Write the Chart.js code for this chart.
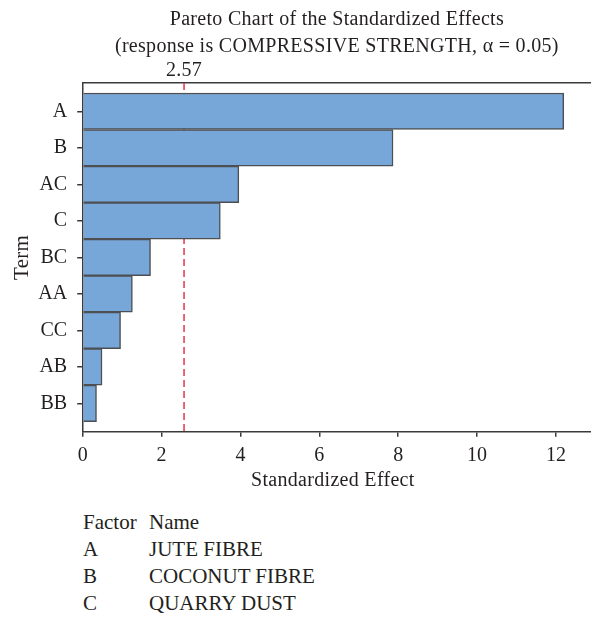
<!DOCTYPE html>
<html>
<head>
<meta charset="utf-8">
<script src="https://cdn.jsdelivr.net/npm/chart.js@4/dist/chart.umd.min.js"></script>
<style>
  html, body { margin: 0; padding: 0; background: #fff; }
  #wrap { position: relative; width: 591px; height: 618px; overflow: hidden; }
  #chart-box { position: absolute; left: 0; top: 0; width: 591px; height: 500px; }
  .factor-table { position: absolute; left: 83px; top: 510px; font-family: "Liberation Serif", "DejaVu Serif", serif; font-size: 21px; line-height: 24px; color: #231f20; }
  .factor-table div { position: absolute; white-space: nowrap; }
</style>
</head>
<body>
<div id="wrap">
  <div id="chart-box"><canvas id="c" width="591" height="500"></canvas></div>
  <div class="factor-table" id="factors"></div>
</div>
<script>
// Model terms and their standardized effects (sorted largest first)
const terms = ['A', 'B', 'AC', 'C', 'BC', 'AA', 'CC', 'AB', 'BB'];
const effects = [12.20, 7.87, 3.96, 3.49, 1.72, 1.26, 0.96, 0.49, 0.35];
// Reference line: critical t value at alpha = 0.05
const critical = 2.57;
const xTicks = [0, 2, 4, 6, 8, 10, 12];
// Factor key
const factorCodes = ['A', 'B', 'C'];
const factorNames = ['JUTE FIBRE', 'COCONUT FIBRE', 'QUARRY DUST'];

const titleLines = ['Pareto Chart of the Standardized Effects', '(response is COMPRESSIVE STRENGTH, \u03B1 = 0.05)'];
const FONT = '"Liberation Serif", "DejaVu Serif", serif';
const TEXT = '#231f20';
const AXIS = '#3a3a3a';

// Factor table below the chart
const tbl = document.getElementById('factors');
function addCell(txt, x, y) {
  const d = document.createElement('div');
  d.textContent = txt; d.style.left = x + 'px'; d.style.top = y + 'px';
  tbl.appendChild(d);
}
addCell('Factor', 0, 0); addCell('Name', 66, 0);
factorCodes.forEach((f, i) => { addCell(f, 0, 27 * (i + 1)); addCell(factorNames[i], 66, 27 * (i + 1)); });

const overlay = {
  id: 'overlay',
  beforeDatasetsDraw(chart) {
    const { ctx, chartArea } = chart;
    const x = chart.scales.x.getPixelForValue(critical);
    ctx.save();
    ctx.strokeStyle = '#e3354c';
    ctx.lineWidth = 1.5;
    ctx.setLineDash([7, 4]);
    ctx.beginPath();
    ctx.moveTo(x, chartArea.top);
    ctx.lineTo(x, chartArea.bottom);
    ctx.stroke();
    ctx.restore();
  },
  afterDraw(chart) {
    const { ctx, chartArea } = chart;
    const cx = (chartArea.left + chartArea.right) / 2;
    ctx.save();
    ctx.fillStyle = TEXT;
    ctx.textAlign = 'center';
    ctx.textBaseline = 'middle';
    ctx.font = '20px ' + FONT;
    ctx.letterSpacing = '0.3px';
    ctx.fillText(titleLines[0], cx, 20);
    ctx.fillText(titleLines[1], cx, 47);
    ctx.fillText(critical.toFixed(2), chart.scales.x.getPixelForValue(critical), 71);
    ctx.fillText('Standardized Effect', cx - 4, 481);
    ctx.translate(22, (chartArea.top + chartArea.bottom) / 2);
    ctx.rotate(-Math.PI / 2);
    ctx.font = '21px ' + FONT;
    ctx.fillText('Term', 0, 0);
    ctx.restore();
  }
};

new Chart(document.getElementById('c'), {
  type: 'bar',
  data: {
    datasets: [{
      data: effects.map((v, i) => ({ x: v, y: i })),
      backgroundColor: '#77a6d8',
      borderColor: '#4d4f52',
      borderWidth: 1.5,
      barPercentage: 1,
      categoryPercentage: 1
    }]
  },
  options: {
    indexAxis: 'y',
    responsive: false,
    animation: false,
    events: [],
    layout: { padding: { top: 83, left: 0, right: 0, bottom: 0 } },
    plugins: { legend: { display: false }, tooltip: { enabled: false }, title: { display: false } },
    scales: {
      x: {
        type: 'linear', position: 'bottom', min: 0, max: 12.89,
        afterBuildTicks: (axis) => { axis.ticks = xTicks.map(v => ({ value: v })); },
        afterFit: (axis) => { axis.height = 68.3; },
        border: { display: true, color: AXIS, width: 1.5 },
        grid: { drawOnChartArea: false, drawTicks: true, tickLength: 5, color: AXIS, lineWidth: 1.5 },
        ticks: { color: TEXT, font: { family: FONT, size: 20 }, padding: 7, maxRotation: 0 }
      },
      xTop: {
        type: 'linear', position: 'top', min: 0, max: 12.89,
        afterFit: (axis) => { axis.height = 0; },
        border: { display: true, color: AXIS, width: 1.5 },
        grid: { display: false },
        ticks: { display: false }
      },
      y: {
        type: 'linear', reverse: true, min: -0.774, max: 8.774, offset: false,
        afterBuildTicks: (axis) => { axis.ticks = terms.map((_, i) => ({ value: i })); },
        afterFit: (axis) => { axis.width = 82.7; },
        border: { display: true, color: AXIS, width: 1.5 },
        grid: { offset: false, drawOnChartArea: false, drawTicks: true, tickLength: 5.5, color: AXIS, lineWidth: 1.5 },
        ticks: { color: TEXT, font: { family: FONT, size: 20 }, padding: 10, callback: (v) => terms[v] }
      }
    }
  },
  plugins: [overlay]
});
</script>
</body>
</html>
